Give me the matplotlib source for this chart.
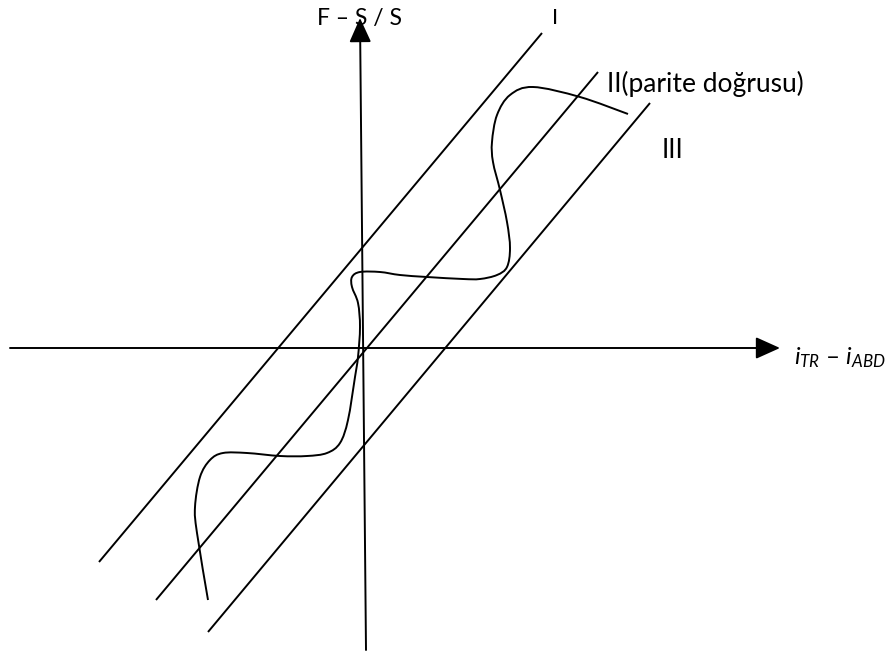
import numpy as np
import matplotlib
matplotlib.use("Agg")
import matplotlib.pyplot as plt
from matplotlib.path import Path
from matplotlib.patches import PathPatch

plt.rcParams['font.family'] = ['Lato', 'DejaVu Sans']
plt.rcParams['mathtext.fontset'] = 'custom'
plt.rcParams['mathtext.it'] = 'Lato:italic'
plt.rcParams['mathtext.rm'] = 'Lato'

# picture is in pixel units, y grows downwards
W, H = 895, 655

# axes (start, end)
x_axis = [(10, 348), (780, 348)]
y_axis = [(366, 650), (360, 18)]

# the three parallel lines, bottom end -> top end
line_names = ['I', 'II', 'III']
line_bottom = [(99, 562), (156, 600), (208, 632)]
line_top = [(542, 33), (598, 72), (650, 103)]

# the wavy curve
curve_x = [628, 580, 533, 510, 497, 492, 493, 500, 507, 510, 507, 497, 480, 463,
           427, 400, 380, 360, 352, 352, 358, 360, 358, 355, 348, 340, 327, 307,
           280, 247, 223, 210, 200, 195, 197, 208]
curve_y = [114, 97, 87, 95, 115, 142, 162, 190, 222, 248, 267, 275, 279, 279,
           277, 275, 272, 272, 277, 287, 303, 327, 357, 377, 420, 443, 453, 456,
           456, 453, 453, 460, 477, 507, 533, 600]

labels = ['I', 'II(parite doğrusu)', 'III']
label_pos = [(552, 18), (607, 84), (662, 151)]
label_size = [15.5, 19, 19]


def smooth_path(xs, ys):
    # catmull-rom -> cubic bezier so the curve comes out smooth
    p = np.column_stack([xs, ys]).astype(float)
    verts = [p[0]]
    codes = [Path.MOVETO]
    for i in range(len(p) - 1):
        p0 = p[i - 1] if i > 0 else p[i]
        p1, p2 = p[i], p[i + 1]
        p3 = p[i + 2] if i + 2 < len(p) else p[i + 1]
        c1 = p1 + (p2 - p0) / 6.0
        c2 = p2 - (p3 - p1) / 6.0
        verts += [c1, c2, p2]
        codes += [Path.CURVE4] * 3
    return Path(verts, codes)


fig = plt.figure(figsize=(W / 100, H / 100), dpi=100)
ax = fig.add_axes([0, 0, 1, 1])
ax.set_xlim(0, W)
ax.set_ylim(H, 0)
ax.axis('off')

lw = 1.4
for ax_line in (x_axis, y_axis):
    ax.annotate('', xy=ax_line[1], xytext=ax_line[0],
                arrowprops=dict(arrowstyle='-|>,head_length=1.0,head_width=0.45',
                                color='black', lw=lw, mutation_scale=15,
                                shrinkA=0, shrinkB=0))

for b, t in zip(line_bottom, line_top):
    ax.plot([b[0], t[0]], [b[1], t[1]], color='black', lw=lw,
            solid_capstyle='butt')

ax.add_patch(PathPatch(smooth_path(curve_x, curve_y), facecolor='none',
                       edgecolor='black', lw=lw))

for txt, (tx, ty), fs in zip(labels, label_pos, label_size):
    ax.text(tx, ty, txt, fontsize=fs, ha='left', va='center')

ax.text(317, 18, 'F – S / S', fontsize=16.5, ha='left', va='center')
ax.text(794, 358, r'$i_{TR}$ – $i_{ABD}$', fontsize=17.5, ha='left',
        va='center')

fig.savefig('out.png', dpi=100)
